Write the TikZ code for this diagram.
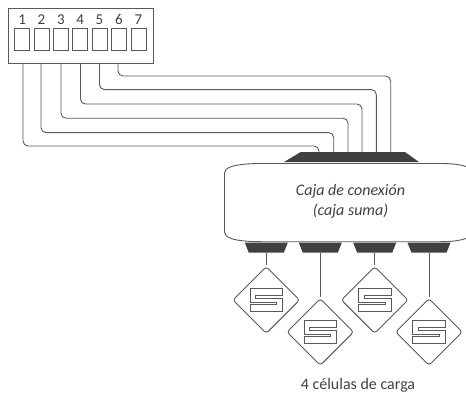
\documentclass[tikz,border=0pt]{standalone}
\usepackage{fontspec}
\setmainfont{Carlito}
\usetikzlibrary{shapes.geometric}
\definecolor{ink}{HTML}{404040}
\definecolor{wirec}{HTML}{595959}
\tikzset{
  x=1pt,y=-1pt,
  wire/.style={draw=wirec,line width=0.9pt,rounded corners=5pt},
  port/.style={draw=wirec,line width=0.9pt,minimum width=15pt,minimum height=22.5pt,inner sep=0pt},
  num/.style={text=ink,font=\fontsize{15}{16}\selectfont,inner sep=0pt},
  dark/.style={fill=ink,draw=none},
  cell/.style={shape=diamond,draw=wirec,line width=0.9pt,rounded corners=3pt,minimum width=67pt,minimum height=67pt,inner sep=0pt},
  sglyph/.style={draw=wirec,line width=0.9pt,line join=miter},
  dot/.style={coordinate}
}
\begin{document}
\begin{tikzpicture}
\useasboundingbox (0,0) rectangle (466,392);
% terminal block
\node[draw=wirec,line width=0.9pt,minimum width=144.5pt,minimum height=54.5pt,inner sep=0pt] (block) at (80.75,35.75) {};
\foreach \i/\x in {1/22.3,2/41.5,3/61,4/80.3,5/99.5,6/118.8,7/138.5}{
  \node[port] (p\i) at (\x,39.5) {};
  \node[num] (n\i) at (\x,19.5) {\i};
}
% top connector
\fill[dark] (300.7,152) -- (405,152) -- (419,162) -- (284,162) -- cycle;
\foreach \i/\x in {1/319,2/333.7,3/348,4/362,5/376.3,6/390.7}{\node[dot] (in\i) at (\x,152) {};}
\foreach \i/\x in {1/23,2/41,3/61,4/80.5,5/99.5,6/118}{\node[dot] (out\i) at (\x,63) {};}
\foreach \i/\y in {1/146,2/132.6,3/118.2,4/104,5/89.6,6/76}{
  \draw[wire] (out\i) |- (in\i |- 0,\y) -- (in\i);
}
% junction box
\node[inner sep=0pt] (caja) at (350.5,201.5) {};
\draw[draw=wirec,line width=0.9pt] (466,166.5) .. controls (460,164.5) and (452,163.5) .. (440,163.5) -- (262,163.5) .. controls (232,163.5) and (224.5,168) .. (224.5,173) -- (224.5,232) .. controls (224.5,237) and (232,241.7) .. (262,241.7) -- (440,241.7) .. controls (452,241.7) and (460,240.5) .. (466,238.5);
\node[text=ink,font=\fontsize{16}{20}\selectfont\itshape,align=center,inner sep=0pt] at (caja) {Caja de conexión\\(caja suma)};
% lower connectors and load cells
\foreach \i/\x/\y in {1/266.3/300,2/320.3/332,3/374.7/300,4/429/332}{
  \fill[dark] (\x-21.5,242.7) -- (\x+21.5,242.7) -- (\x+17.5,252.7) -- (\x-17.5,252.7) -- cycle;
  \node[dot] (tap\i) at (\x,252.7) {};
  \node[cell] (cell\i) at (\x,\y) {};
  \draw[wire,shorten >=1.5pt] (tap\i) -- (cell\i.north);
  \draw[sglyph,shift={(\x,\y)}] (-16.3,-11.5) -- (16.3,-11.5) -- (16.3,-4.5) -- (-10.6,-4.5) -- (-10.6,-2) -- (16.3,-2) -- (16.3,11.5) -- (-16.3,11.5) -- (-16.3,4.5) -- (10.6,4.5) -- (10.6,2) -- (-16.3,2) -- cycle;
}
\node[text=ink,font=\fontsize{16}{18}\selectfont,inner sep=0pt] (lbl) at (358,385) {4 células de carga};
\end{tikzpicture}
\end{document}
